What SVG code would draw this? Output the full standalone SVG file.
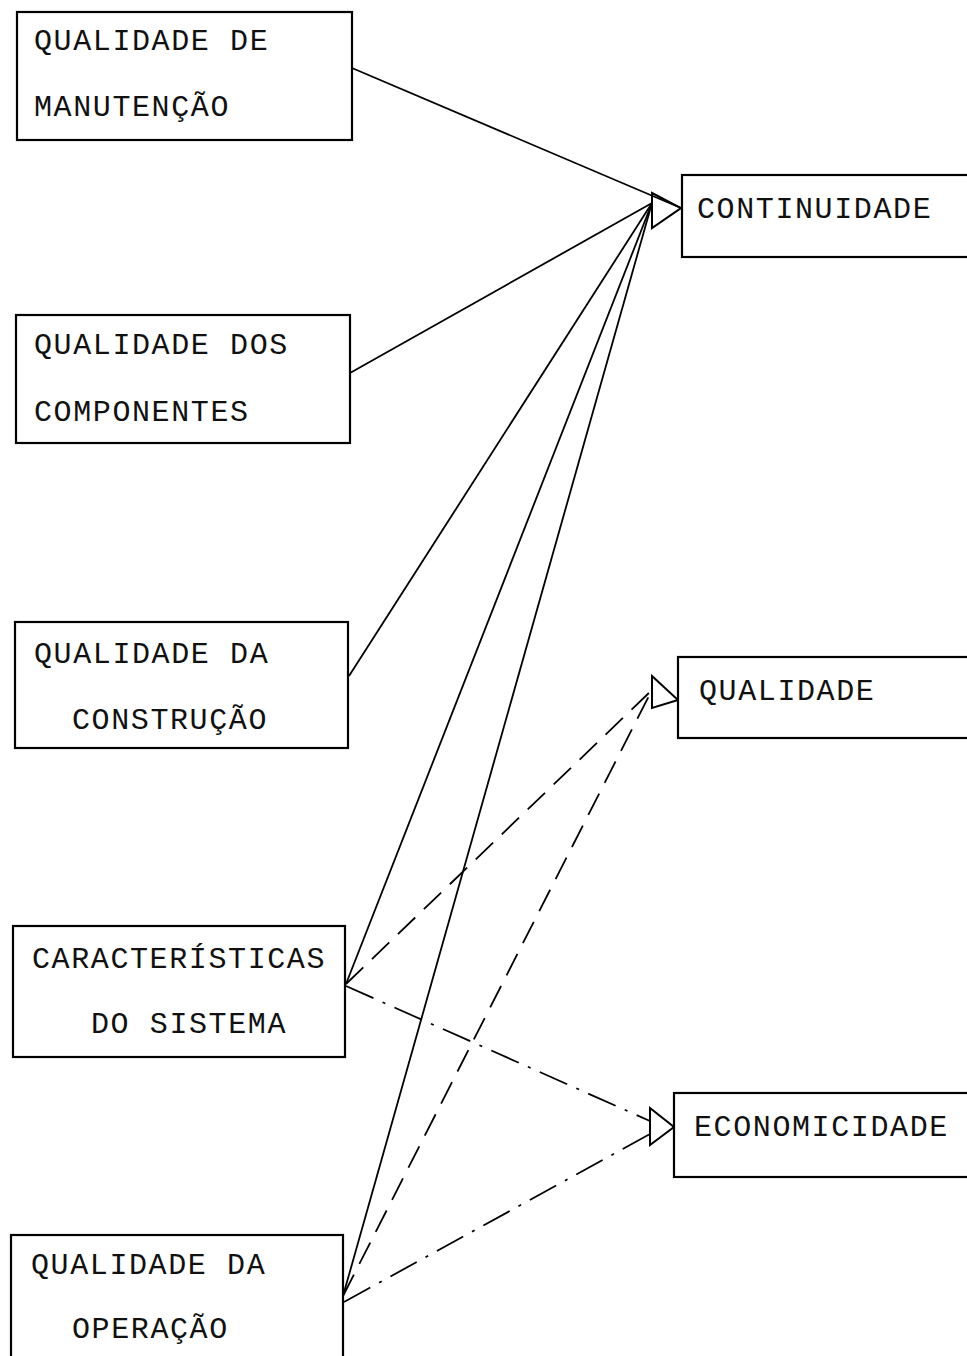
<svg xmlns="http://www.w3.org/2000/svg" width="967" height="1356" viewBox="0 0 967 1356">
<style>
.box{fill:#fff;stroke:#000;stroke-width:2.2}
.t{font-family:"Liberation Mono","Courier New",monospace;font-size:30px;letter-spacing:1.6px;fill:#111}
.c{fill:none;stroke:#000;stroke-width:1.8}
.d{stroke-dasharray:24 12}
.dd{stroke-dasharray:30 10 3 10}
.ah{fill:none;stroke:#000;stroke-width:2;stroke-linejoin:miter}
</style>
<rect width="967" height="1356" fill="#fff"/>
<g id="connectors">
<line class="c" x1="352" y1="68" x2="681" y2="208"/>
<line class="c" x1="350" y1="373" x2="652" y2="203"/>
<line class="c" x1="349" y1="676" x2="652" y2="203"/>
<line class="c" x1="346" y1="984" x2="652" y2="203"/>
<line class="c" x1="343" y1="1296" x2="652" y2="203"/>
<polygon class="ah" points="652,193 681,208 652,228"/>
<line class="c d" x1="346" y1="984" x2="652" y2="690"/>
<line class="c d" x1="343" y1="1296" x2="652" y2="690"/>
<polygon class="ah" points="652,676 678,700 652,708"/>
<line class="c dd" x1="346" y1="986" x2="650" y2="1121"/>
<line class="c dd" x1="344" y1="1302" x2="650" y2="1134"/>
<polygon class="ah" points="650,1108 674,1127 650,1145"/>
</g>
<g id="n1"><rect class="box" x="17" y="12" width="335" height="128"/><text class="t" x="34" y="50">QUALIDADE DE</text><text class="t" x="34" y="116">MANUTENÇÃO</text></g>
<g id="n2"><rect class="box" x="16" y="315" width="334" height="128"/><text class="t" x="34" y="354">QUALIDADE DOS</text><text class="t" x="34" y="421">COMPONENTES</text></g>
<g id="n3"><rect class="box" x="15" y="622" width="333" height="126"/><text class="t" x="34" y="663">QUALIDADE DA</text><text class="t" x="72" y="729">CONSTRUÇÃO</text></g>
<g id="n4"><rect class="box" x="13" y="926" width="332" height="131"/><text class="t" x="32" y="968">CARACTERÍSTICAS</text><text class="t" x="91" y="1033">DO SISTEMA</text></g>
<g id="n5"><rect class="box" x="11" y="1235" width="332" height="130"/><text class="t" x="31" y="1274">QUALIDADE DA</text><text class="t" x="72" y="1338">OPERAÇÃO</text></g>
<g id="n6"><rect class="box" x="682" y="175" width="295" height="82"/><text class="t" x="697" y="218">CONTINUIDADE</text></g>
<g id="n7"><rect class="box" x="678" y="657" width="299" height="81"/><text class="t" x="699" y="700">QUALIDADE</text></g>
<g id="n8"><rect class="box" x="674" y="1093" width="303" height="84"/><text class="t" x="694" y="1136">ECONOMICIDADE</text></g>
</svg>
